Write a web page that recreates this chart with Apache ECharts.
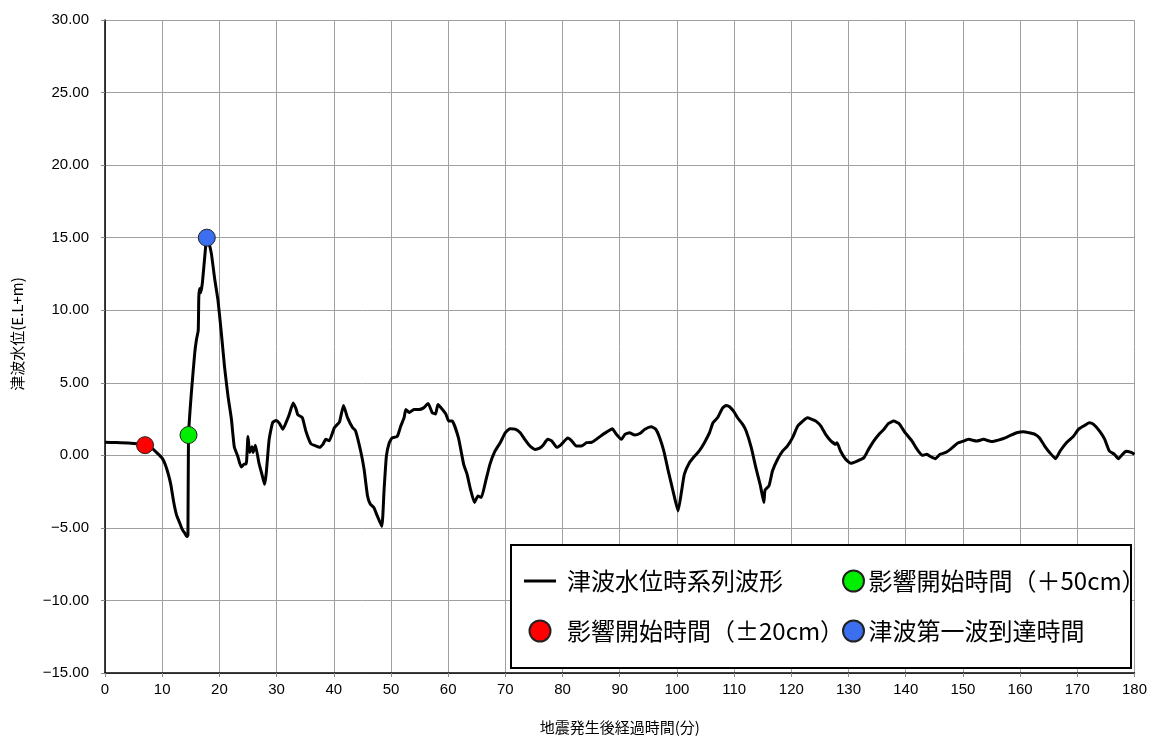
<!DOCTYPE html>
<html>
<head>
<meta charset="utf-8">
<script src="https://cdn.jsdelivr.net/npm/echarts@6/dist/echarts.min.js"></script>
<style>
  html, body { margin: 0; padding: 0; background: #fff; }
  #chart { width: 1150px; height: 740px; }
</style>
</head>
<body>
<div id="chart"></div>
<script>
// 経過時間(分)
var times = [0, 2, 4, 6, 7, 8, 9, 10, 10.5, 11, 11.5, 12, 12.5, 13, 13.5, 14, 14.3, 14.5,
  14.6, 15.1, 15.7, 16.0, 16.3, 16.4, 16.55, 16.7, 17.0, 17.4, 17.8, 18.2, 18.6, 19.2, 19.75,
  20.3, 20.9, 21.5, 22.1, 22.6, 23.2, 23.8, 24.4, 24.7, 25.0, 25.3, 25.7, 25.9, 26.3, 26.9,
  27.5, 27.9, 28.2, 28.7, 29.3, 29.9, 30.5, 31.1, 31.7, 32.2, 32.9, 33.4, 33.7, 34.5, 35.1,
  36.0, 36.9, 37.5, 38.1, 38.6, 39.2, 40.1, 41.0, 41.7, 42.4, 43.3, 43.8, 44.7, 45.3, 45.9,
  46.4, 47.0, 47.6, 48.4, 48.8, 49.2, 49.7, 50.2, 51.1, 51.7, 52.3, 52.6, 53.2, 54.0, 54.9,
  55.7, 56.5, 57.2, 57.8, 58.2, 59.0, 59.6, 60.1, 60.7, 61.8, 62.7, 63.3, 63.9, 64.6, 65.2,
  65.8, 66.5, 67.3, 68.2, 69.1, 70.0, 70.8, 71.7, 72.6, 73.4, 74.3, 75.2, 76.0, 76.6, 77.4,
  78.1, 79.0, 79.8, 80.9, 81.6, 82.4, 83.3, 84.2, 85.1, 85.9, 86.8, 87.7, 88.7, 89.4, 90.3,
  90.9, 91.7, 92.6, 93.5, 94.4, 95.5, 96.3, 97.0, 97.7, 98.5, 99.4, 100.2, 100.8, 101.3,
  102.2, 103.1, 103.9, 104.8, 105.7, 106.3, 107.1, 108.0, 108.6, 109.2, 109.9, 110.6, 111.5,
  112.1, 113.0, 113.8, 114.6, 115.2, 115.4, 116.1, 116.7, 117.6, 118.5, 119.3, 120.2, 121.1,
  122.0, 122.8, 123.5, 124.3, 125.2, 126.0, 126.9, 127.8, 128.0, 128.6, 129.5, 130.4, 131.5,
  132.7, 133.5, 134.4, 135.3, 136.2, 137.0, 137.9, 138.8, 139.9, 141.1, 142.0, 142.9, 143.7,
  144.4, 145.2, 146.0, 146.9, 147.8, 149.0, 150.1, 151.0, 152.4, 153.6, 155.0, 156.2, 157.4,
  158.3, 159.4, 160.6, 161.5, 162.6, 163.4, 164.3, 165.2, 166.2, 167.0, 168.1, 169.3, 170.2,
  171.1, 172.1, 172.8, 173.9, 174.8, 175.6, 176.5, 177.2, 177.9, 178.5, 179.4, 180];

// 津波水位(E.L+m)
var levels = [0.9, 0.88, 0.85, 0.78, 0.7, 0.55, 0.2, -0.2, -0.6, -1.2, -2.0, -3.2, -4.1, -4.6, -5.1, -5.4, -5.6, -5.5,
  1.36, 4.3, 7.1, 8.0, 8.6, 10.9, 11.5, 11.2, 11.8, 13.5, 15.0, 14.6, 13.9, 12.1, 10.7,
  8.6, 6.1, 4.1, 2.5, 0.6, -0.05, -0.8, -0.6, -0.6, 1.3, 0.2, 0.6, 0.2, 0.7, -0.5,
  -1.4, -2.0, -1.2, 1.1, 2.25, 2.4, 2.2, 1.8, 2.3, 2.8, 3.6, 3.2, 2.8, 2.6, 1.7,
  0.8, 0.64, 0.55, 0.76, 1.1, 1.0, 1.9, 2.3, 3.44, 2.6, 1.9, 1.7, 0.3, -0.96, -2.8,
  -3.37, -3.6, -4.17, -4.9, -2.34, -0.05, 0.87, 1.2, 1.3, 2.0, 2.6, 3.16, 2.95, 3.16, 3.16,
  3.27, 3.57, 2.95, 2.84, 3.5, 3.16, 2.84, 2.36, 2.36, 1.2, -0.6, -1.3, -2.34, -3.25, -2.8,
  -2.9, -1.88, -0.62, 0.3, 0.87, 1.56, 1.83, 1.8, 1.56, 1.1, 0.64, 0.41, 0.5, 0.7, 1.1,
  1.0, 0.55, 0.76, 1.2, 1.0, 0.64, 0.64, 0.87, 0.9, 1.1, 1.37, 1.6, 1.83, 1.45, 1.1,
  1.45, 1.56, 1.4, 1.5, 1.8, 1.97, 1.8, 1.2, 0.3, -1.1, -2.6, -3.83, -2.5, -1.3,
  -0.5, -0.05, 0.3, 0.87, 1.56, 2.25, 2.59, 3.27, 3.44, 3.35, 3.04, 2.59, 2.13,
  1.67, 0.53, -0.85, -2.1, -3.25, -2.4, -2.1, -1.08, -0.27, 0.3, 0.64, 1.2, 2.0,
  2.36, 2.59, 2.5, 2.36, 2.0, 1.44, 1.0, 0.76, 0.87, 0.3, -0.27, -0.55, -0.4,
  -0.16, 0.41, 0.98, 1.44, 1.8, 2.2, 2.36, 2.2, 1.56, 0.98, 0.41, 0.0, 0.07,
  -0.1, -0.23, 0.07, 0.18, 0.41, 0.82, 0.98, 1.1, 0.98, 1.1, 0.95, 1.05, 1.2,
  1.37, 1.56, 1.63, 1.56, 1.45, 1.2, 0.64, 0.18, -0.23, 0.3, 0.87, 1.3, 1.79,
  2.02, 2.25, 2.15, 1.67, 1.1, 0.3, 0.07, -0.23, 0.07, 0.28, 0.2, 0.07];

// 各時間のマーカー [時間, 水位]
var start20 = [7.0, 0.7];
var start50 = [14.6, 1.4];
var firstWave = [17.8, 15.0];

var seriesNames = ['津波水位時系列波形', '影響開始時間（±20cm）', '影響開始時間（＋50cm）', '津波第一波到達時間'];

var waveData = times.map(function (t, i) { return [t, levels[i]]; });

var myChart = echarts.init(document.getElementById('chart'));

var markerStyle = function (color) {
  return { color: color, borderColor: '#222', borderWidth: 1, opacity: 1 };
};

var legendText = { fontSize: 24, color: '#000', fontFamily: 'Noto Sans CJK JP', lineHeight: 24 };

myChart.setOption({
  animation: false,
  backgroundColor: '#fff',
  grid: { left: 105, right: 12, top: 20, bottom: 65 },
  graphic: [{
    type: 'rect',
    z: 3,
    shape: { x: 511, y: 545, width: 620, height: 123 },
    style: { fill: '#fff', stroke: '#000', lineWidth: 2 }
  }],
  legend: [{
    z: 10,
    orient: 'vertical',
    left: 519,
    top: 564,
    itemWidth: 32,
    itemHeight: 21,
    itemGap: 26,
    symbolKeepAspect: true,
    textStyle: Object.assign({}, legendText, { padding: [0, 0, 0, 6] }),
    data: [{ name: seriesNames[0], icon: 'path://M0,0L32,0L32,3L0,3Z' }, seriesNames[1]]
  }, {
    z: 10,
    orient: 'vertical',
    left: 837,
    top: 564,
    itemWidth: 32,
    itemHeight: 21,
    itemGap: 26,
    textStyle: Object.assign({}, legendText, { padding: [0, 0, 0, -6] }),
    data: [seriesNames[2], seriesNames[3]]
  }],
  xAxis: {
    type: 'value',
    min: 0,
    max: 180,
    interval: 10,
    name: '地震発生後経過時間(分)',
    nameLocation: 'middle',
    nameGap: 47,
    nameTextStyle: { fontSize: 15, color: '#000', fontFamily: 'Noto Sans CJK JP' },
    axisLine: { onZero: false, lineStyle: { color: '#000', width: 1.5 } },
    axisTick: { show: true, length: 4, lineStyle: { color: '#888' } },
    axisLabel: { fontSize: 15, color: '#000', margin: 9, fontFamily: 'Liberation Sans' },
    splitLine: { show: true, lineStyle: { color: '#a0a0a0', width: 1 } }
  },
  yAxis: {
    type: 'value',
    min: -15,
    max: 30,
    interval: 5,
    name: '津波水位(E.L+m)',
    nameLocation: 'middle',
    nameRotate: 90,
    nameGap: 80,
    nameTextStyle: { fontSize: 15, color: '#000', fontFamily: 'Noto Sans CJK JP', padding: [0, 0, 0, 25] },
    axisLine: { show: true, onZero: false, lineStyle: { color: '#000', width: 1.5 } },
    axisTick: { show: true, length: 4, lineStyle: { color: '#888' } },
    axisLabel: {
      fontSize: 15,
      color: '#000',
      margin: 16,
      fontFamily: 'Liberation Sans',
      formatter: function (v) { return v.toFixed(2).replace('-', '\u2212'); }
    },
    splitLine: { show: true, lineStyle: { color: '#a0a0a0', width: 1 } }
  },
  series: [{
    name: seriesNames[0],
    type: 'line',
    data: waveData,
    symbol: 'none',
    smooth: 0.15,
    z: 2,
    itemStyle: { color: '#000' },
    lineStyle: { color: '#000', width: 3 }
  }, {
    name: seriesNames[1],
    type: 'scatter',
    data: [start20],
    symbolSize: 17,
    z: 5,
    itemStyle: markerStyle('#ff0000')
  }, {
    name: seriesNames[2],
    type: 'scatter',
    data: [start50],
    symbolSize: 17,
    z: 5,
    itemStyle: markerStyle('#00ee00')
  }, {
    name: seriesNames[3],
    type: 'scatter',
    data: [firstWave],
    symbolSize: 17,
    z: 5,
    itemStyle: markerStyle('#3c6ff0')
  }]
});
</script>
</body>
</html>
